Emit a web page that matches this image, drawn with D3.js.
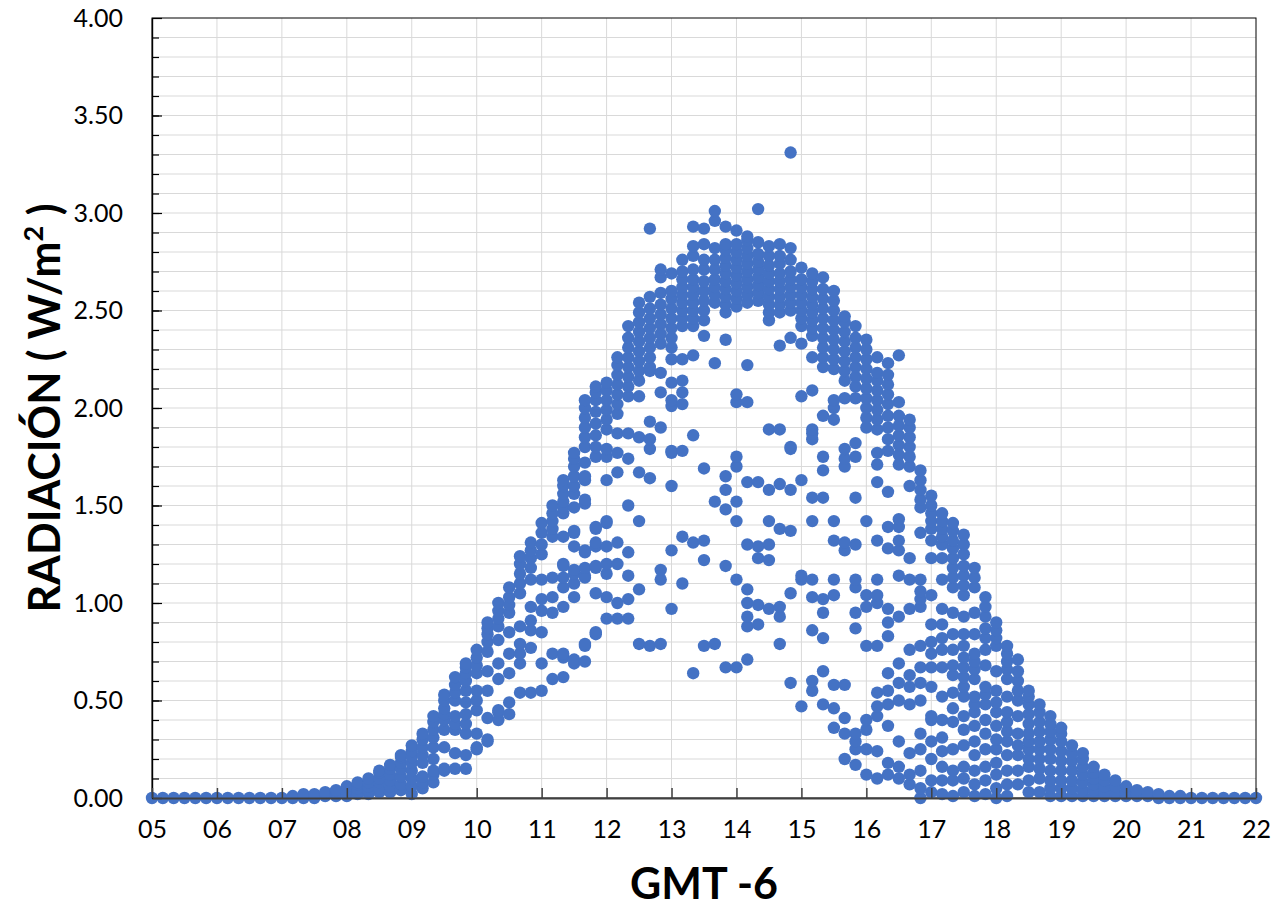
<!DOCTYPE html>
<html>
<head>
<meta charset="utf-8">
<script src="https://cdn.jsdelivr.net/npm/d3@7"></script>
<style>
  body { margin: 0; background: #fff; }
  .axis text { font-family: Lato, "Open Sans", sans-serif; font-size: 25px; fill: #000; }
  .title { font-family: Lato, "Open Sans", sans-serif; font-weight: bold; font-size: 43px; fill: #000; }
</style>
</head>
<body>
<div id="chart"></div>
<script>
// 10-minute sample times (GMT -6)
const times = [
  "05:00","05:10","05:20","05:30","05:40","05:50",
  "06:00","06:10","06:20","06:30","06:40","06:50",
  "07:00","07:10","07:20","07:30","07:40","07:50",
  "08:00","08:10","08:20","08:30","08:40","08:50",
  "09:00","09:10","09:20","09:30","09:40","09:50",
  "10:00","10:10","10:20","10:30","10:40","10:50",
  "11:00","11:10","11:20","11:30","11:40","11:50",
  "12:00","12:10","12:20","12:30","12:40","12:50",
  "13:00","13:10","13:20","13:30","13:40","13:50",
  "14:00","14:10","14:20","14:30","14:40","14:50",
  "15:00","15:10","15:20","15:30","15:40","15:50",
  "16:00","16:10","16:20","16:30","16:40","16:50",
  "17:00","17:10","17:20","17:30","17:40","17:50",
  "18:00","18:10","18:20","18:30","18:40","18:50",
  "19:00","19:10","19:20","19:30","19:40","19:50",
  "20:00","20:10","20:20","20:30","20:40","20:50",
  "21:00","21:10","21:20","21:30","21:40","21:50",
  "22:00"
];

// radiation readings (W/m2) for every day at each sample time
const radiation = [
  [0], [0], [0], [0], [0], [0],
  [0], [0], [0], [0], [0], [0],
  [0],
  [0, 0.01],
  [0, 0.01, 0.02],
  [0, 0.01, 0.02],
  [0.01, 0.02, 0.03],
  [0.01, 0.02, 0.03, 0.04],
  [0.01, 0.03, 0.04, 0.06],
  [0.02, 0.03, 0.05, 0.07, 0.08],
  [0.02, 0.04, 0.06, 0.08, 0.10],
  [0.03, 0.05, 0.08, 0.10, 0.13, 0.14],
  [0.03, 0.06, 0.09, 0.12, 0.15, 0.17],
  [0.04, 0.07, 0.11, 0.15, 0.18, 0.21, 0.22],
  [0.02, 0.06, 0.10, 0.14, 0.18, 0.21, 0.24, 0.27],
  [0.05, 0.08, 0.11, 0.18, 0.22, 0.26, 0.30, 0.33],
  [0.08, 0.12, 0.14, 0.20, 0.26, 0.31, 0.35, 0.39, 0.42],
  [0.14, 0.15, 0.26, 0.35, 0.40, 0.43, 0.46, 0.50, 0.53],
  [0.15, 0.23, 0.35, 0.38, 0.42, 0.50, 0.54, 0.58, 0.62],
  [0.15, 0.22, 0.33, 0.38, 0.43, 0.49, 0.55, 0.60, 0.64, 0.67, 0.69],
  [0.25, 0.26, 0.33, 0.45, 0.50, 0.55, 0.64, 0.68, 0.72, 0.76],
  [0.29, 0.30, 0.41, 0.55, 0.65, 0.75, 0.80, 0.84, 0.87, 0.90],
  [0.40, 0.44, 0.45, 0.61, 0.69, 0.81, 0.88, 0.92, 0.96, 1.00],
  [0.43, 0.49, 0.64, 0.74, 0.85, 0.95, 0.99, 1.03, 1.08],
  [0.54, 0.69, 0.74, 0.79, 0.88, 1.05, 1.10, 1.15, 1.20, 1.24],
  [0.54, 0.77, 0.86, 0.91, 0.98, 1.12, 1.18, 1.23, 1.27, 1.31],
  [0.55, 0.69, 0.85, 0.96, 1.02, 1.12, 1.25, 1.30, 1.36, 1.41],
  [0.61, 0.74, 0.95, 1.03, 1.13, 1.34, 1.38, 1.42, 1.46, 1.50],
  [0.62, 0.72, 0.74, 0.98, 1.08, 1.13, 1.19, 1.20, 1.34, 1.46, 1.49, 1.52, 1.56, 1.60, 1.63],
  [0.69, 0.71, 1.03, 1.10, 1.15, 1.17, 1.29, 1.36, 1.37, 1.49, 1.56, 1.60, 1.65, 1.70, 1.74, 1.77],
  [0.70, 0.78, 0.79, 1.13, 1.14, 1.18, 1.26, 1.27, 1.51, 1.53, 1.63, 1.65, 1.72, 1.80, 1.85, 1.90, 1.95, 2.00, 2.04],
  [0.84, 0.85, 1.05, 1.18, 1.19, 1.29, 1.31, 1.38, 1.39, 1.75, 1.80, 1.86, 1.92, 1.98, 2.04, 2.08, 2.11],
  [0.92, 1.03, 1.15, 1.20, 1.29, 1.41, 1.42, 1.63, 1.75, 1.79, 1.89, 1.94, 1.99, 2.04, 2.09, 2.13],
  [0.92, 1.00, 1.20, 1.31, 1.67, 1.77, 1.87, 1.97, 2.02, 2.07, 2.12, 2.17, 2.22, 2.26],
  [0.92, 1.02, 1.14, 1.26, 1.50, 1.74, 1.87, 2.06, 2.11, 2.16, 2.21, 2.26, 2.31, 2.36, 2.42],
  [0.79, 1.07, 1.42, 1.67, 1.85, 2.06, 2.14, 2.19, 2.24, 2.29, 2.34, 2.39, 2.44, 2.49, 2.54],
  [0.78, 1.64, 1.79, 1.84, 1.93, 2.19, 2.21, 2.26, 2.31, 2.36, 2.41, 2.46, 2.51, 2.57, 2.92],
  [0.79, 1.12, 1.17, 1.90, 2.08, 2.18, 2.33, 2.38, 2.43, 2.48, 2.53, 2.59, 2.67, 2.71],
  [0.97, 1.27, 1.60, 1.77, 1.78, 2.01, 2.04, 2.13, 2.25, 2.31, 2.36, 2.41, 2.46, 2.51, 2.56, 2.60, 2.69],
  [1.10, 1.34, 1.78, 2.02, 2.08, 2.14, 2.25, 2.42, 2.46, 2.50, 2.54, 2.58, 2.62, 2.66, 2.70, 2.76],
  [0.64, 1.31, 1.86, 2.27, 2.42, 2.46, 2.50, 2.54, 2.58, 2.62, 2.66, 2.71, 2.78, 2.83, 2.93],
  [0.78, 1.22, 1.32, 1.69, 2.37, 2.45, 2.50, 2.55, 2.60, 2.65, 2.71, 2.76, 2.84, 2.92],
  [0.79, 1.52, 2.23, 2.54, 2.58, 2.62, 2.66, 2.71, 2.76, 2.82, 2.96, 3.01],
  [0.67, 1.19, 1.48, 1.58, 1.65, 2.35, 2.49, 2.53, 2.57, 2.61, 2.65, 2.69, 2.73, 2.77, 2.81, 2.84, 2.93],
  [0.67, 1.12, 1.42, 1.52, 1.70, 1.75, 2.03, 2.07, 2.52, 2.56, 2.60, 2.64, 2.68, 2.72, 2.76, 2.80, 2.84, 2.91],
  [0.71, 0.88, 0.93, 1.00, 1.07, 1.30, 1.62, 2.03, 2.22, 2.54, 2.58, 2.62, 2.66, 2.70, 2.74, 2.78, 2.82, 2.86, 2.88],
  [0.89, 0.99, 1.23, 1.29, 1.62, 2.55, 2.59, 2.63, 2.67, 2.71, 2.75, 2.79, 2.85, 3.02],
  [0.97, 1.22, 1.30, 1.42, 1.58, 1.89, 2.45, 2.49, 2.53, 2.57, 2.61, 2.65, 2.69, 2.73, 2.78, 2.83],
  [0.79, 0.93, 0.98, 1.38, 1.61, 1.89, 2.32, 2.49, 2.53, 2.57, 2.61, 2.65, 2.69, 2.74, 2.78, 2.84],
  [0.59, 1.05, 1.37, 1.58, 1.79, 1.80, 2.36, 2.50, 2.54, 2.58, 2.62, 2.66, 2.70, 2.76, 2.82, 3.31],
  [0.47, 1.12, 1.14, 1.63, 2.06, 2.33, 2.42, 2.46, 2.50, 2.54, 2.58, 2.62, 2.66, 2.72],
  [0.55, 0.60, 0.86, 1.03, 1.12, 1.42, 1.54, 1.84, 1.87, 1.89, 2.09, 2.26, 2.37, 2.41, 2.45, 2.49, 2.53, 2.57, 2.61, 2.65, 2.69],
  [0.48, 0.65, 0.82, 0.95, 1.02, 1.54, 1.68, 1.75, 1.96, 2.21, 2.26, 2.31, 2.36, 2.41, 2.46, 2.51, 2.56, 2.61, 2.67],
  [0.36, 0.46, 0.58, 1.04, 1.12, 1.32, 1.42, 1.94, 2.00, 2.04, 2.20, 2.25, 2.30, 2.35, 2.40, 2.45, 2.50, 2.55, 2.60],
  [0.20, 0.33, 0.41, 0.58, 1.27, 1.31, 1.70, 1.74, 1.79, 2.05, 2.14, 2.19, 2.24, 2.29, 2.34, 2.39, 2.44, 2.47],
  [0.17, 0.25, 0.29, 0.33, 0.87, 0.95, 1.08, 1.12, 1.30, 1.54, 1.75, 1.82, 2.05, 2.11, 2.16, 2.21, 2.26, 2.31, 2.36, 2.42],
  [0.12, 0.25, 0.35, 0.40, 0.78, 0.98, 1.04, 1.42, 1.90, 1.95, 2.00, 2.05, 2.10, 2.15, 2.20, 2.25, 2.30, 2.35],
  [0.10, 0.24, 0.42, 0.47, 0.54, 0.78, 1.00, 1.04, 1.12, 1.32, 1.62, 1.71, 1.77, 1.89, 1.94, 1.99, 2.04, 2.09, 2.14, 2.18, 2.26],
  [0.12, 0.18, 0.37, 0.48, 0.55, 0.64, 0.83, 0.90, 0.97, 1.28, 1.39, 1.57, 1.78, 1.84, 1.90, 1.96, 2.02, 2.07, 2.12, 2.17, 2.23],
  [0.10, 0.16, 0.29, 0.50, 0.59, 0.69, 0.93, 1.14, 1.27, 1.32, 1.39, 1.43, 1.71, 1.76, 1.81, 1.86, 1.91, 1.96, 2.03, 2.27],
  [0.07, 0.12, 0.23, 0.48, 0.57, 0.63, 0.76, 0.97, 1.12, 1.23, 1.60, 1.70, 1.75, 1.80, 1.85, 1.90, 1.94],
  [0, 0.05, 0.14, 0.25, 0.33, 0.50, 0.59, 0.67, 0.78, 0.98, 1.02, 1.06, 1.12, 1.36, 1.49, 1.53, 1.58, 1.63, 1.68],
  [0.03, 0.09, 0.20, 0.29, 0.40, 0.42, 0.57, 0.67, 0.74, 0.80, 0.89, 1.04, 1.23, 1.32, 1.38, 1.42, 1.46, 1.50, 1.55],
  [0.02, 0.09, 0.16, 0.24, 0.31, 0.40, 0.52, 0.67, 0.76, 0.82, 0.89, 0.97, 1.12, 1.23, 1.30, 1.34, 1.38, 1.42, 1.46],
  [0.01, 0.09, 0.14, 0.25, 0.39, 0.46, 0.54, 0.63, 0.68, 0.76, 0.84, 0.95, 1.08, 1.13, 1.18, 1.23, 1.28, 1.32, 1.37, 1.41],
  [0.03, 0.10, 0.16, 0.27, 0.35, 0.42, 0.52, 0.57, 0.62, 0.67, 0.72, 0.78, 0.84, 0.93, 1.04, 1.09, 1.14, 1.19, 1.25, 1.30, 1.35],
  [0.01, 0.07, 0.14, 0.22, 0.29, 0.37, 0.44, 0.48, 0.52, 0.61, 0.66, 0.70, 0.74, 0.84, 0.95, 1.08, 1.13, 1.18],
  [0.02, 0.09, 0.16, 0.25, 0.33, 0.40, 0.48, 0.53, 0.57, 0.68, 0.76, 0.82, 0.87, 0.93, 0.98, 1.03],
  [0, 0.05, 0.12, 0.18, 0.25, 0.30, 0.37, 0.44, 0.49, 0.55, 0.65, 0.78, 0.82, 0.86, 0.90],
  [0.01, 0.07, 0.14, 0.22, 0.29, 0.34, 0.39, 0.44, 0.52, 0.61, 0.66, 0.70, 0.74, 0.78],
  [0.07, 0.14, 0.22, 0.27, 0.33, 0.42, 0.50, 0.55, 0.60, 0.65, 0.71],
  [0.03, 0.09, 0.16, 0.20, 0.25, 0.29, 0.33, 0.38, 0.43, 0.48, 0.52, 0.55],
  [0.03, 0.10, 0.15, 0.20, 0.25, 0.29, 0.34, 0.39, 0.44, 0.48],
  [0.01, 0.05, 0.09, 0.14, 0.20, 0.25, 0.30, 0.34, 0.38, 0.42],
  [0.01, 0.05, 0.09, 0.14, 0.19, 0.24, 0.29, 0.33, 0.36],
  [0.01, 0.05, 0.09, 0.14, 0.19, 0.23, 0.27],
  [0.01, 0.04, 0.08, 0.12, 0.16, 0.20, 0.23],
  [0.01, 0.04, 0.07, 0.10, 0.13, 0.16],
  [0.01, 0.03, 0.06, 0.09, 0.12],
  [0.01, 0.03, 0.06, 0.09],
  [0.01, 0.03, 0.06],
  [0.01, 0.02, 0.04],
  [0.01, 0.03],
  [0, 0.02],
  [0, 0.01],
  [0, 0.01],
  [0], [0], [0], [0], [0], [0],
  [0]
];

// axis labels
const xLabels = ["05","06","07","08","09","10","11","12","13","14","15","16","17","18","19","20","21","22"];
const yLabels = ["0.00","0.50","1.00","1.50","2.00","2.50","3.00","3.50","4.00"];

const width = 1277, height = 910;
const margin = { top: 18, right: 21, bottom: 112, left: 152 };
const plotW = width - margin.left - margin.right;
const plotH = height - margin.top - margin.bottom;

const svg = d3.select("#chart").append("svg")
  .attr("width", width)
  .attr("height", height);

const g = svg.append("g")
  .attr("transform", `translate(${margin.left},${margin.top})`);

const x = d3.scaleLinear().domain([5, 22]).range([0, plotW]);
const y = d3.scaleLinear().domain([0, 4]).range([plotH, 0]);

const toHours = t => { let p = t.split(":"); return +p[0] + p[1] / 60; };

// minor grid every 0.1
let minor = d3.range(1, 40).map(i => i / 10);

// gridlines
g.append("g").selectAll("line.hgrid")
  .data(minor)
  .enter().append("line")
  .attr("x1", 0).attr("x2", plotW)
  .attr("y1", d => y(d)).attr("y2", d => y(d))
  .attr("stroke", "#d9d9d9").attr("stroke-width", 1);

g.append("g").selectAll("line.vgrid")
  .data(xLabels.slice(1, -1))
  .enter().append("line")
  .attr("x1", d => x(+d)).attr("x2", d => x(+d))
  .attr("y1", 0).attr("y2", plotH)
  .attr("stroke", "#d9d9d9").attr("stroke-width", 1);

// frame top/right
g.append("rect")
  .attr("x", 0).attr("y", 0)
  .attr("width", plotW).attr("height", plotH)
  .attr("fill", "none").attr("stroke", "#000").attr("stroke-width", 1);

// points
let points = [];
radiation.forEach((vals, i) => {
  vals.forEach(v => points.push({ t: toHours(times[i]), v: v }));
});

g.append("g").selectAll("circle")
  .data(points)
  .enter().append("circle")
  .attr("cx", d => x(d.t))
  .attr("cy", d => y(d.v))
  .attr("r", 6.2)
  .attr("fill", "#4472C4");

// y axis
g.append("g")
  .attr("class", "axis")
  .call(d3.axisLeft(y).tickValues(minor).tickFormat("").tickSize(-7))
  .call(a => a.select(".domain").remove())
  .selectAll("line").attr("stroke", "#000").attr("stroke-width", 1.2);

g.append("g")
  .attr("class", "axis")
  .call(d3.axisLeft(y)
    .tickValues(yLabels.map(d => +d))
    .tickFormat((d, i) => yLabels[i])
    .tickSizeInner(-10).tickSizeOuter(0).tickPadding(29))
  .call(a => a.select(".domain").attr("stroke", "#000").attr("stroke-width", 1.4))
  .call(a => a.selectAll("line").attr("stroke", "#000").attr("stroke-width", 1.2));

// x axis
g.append("g")
  .attr("class", "axis")
  .attr("transform", `translate(0,${plotH})`)
  .call(d3.axisBottom(x)
    .tickValues(xLabels.map(d => +d))
    .tickFormat((d, i) => xLabels[i])
    .tickSizeInner(-10).tickSizeOuter(0).tickPadding(22))
  .call(a => a.select(".domain").attr("stroke", "#404040").attr("stroke-width", 2))
  .call(a => a.selectAll("line").attr("stroke", "#404040").attr("stroke-width", 1.5));

// titles
svg.append("text")
  .attr("class", "title")
  .attr("x", margin.left + plotW / 2)
  .attr("y", 899)
  .attr("text-anchor", "middle")
  .text("GMT -6");

let yt = svg.append("text")
  .attr("class", "title")
  .attr("text-anchor", "middle")
  .attr("transform", `translate(60,${margin.top + plotH / 2}) rotate(-90)`);
yt.append("tspan").text("RADIACIÓN ( W/m");
yt.append("tspan").attr("font-size", "27px").attr("dy", -17).text("2");
yt.append("tspan").attr("dy", 17).text(" )");
</script>
</body>
</html>
